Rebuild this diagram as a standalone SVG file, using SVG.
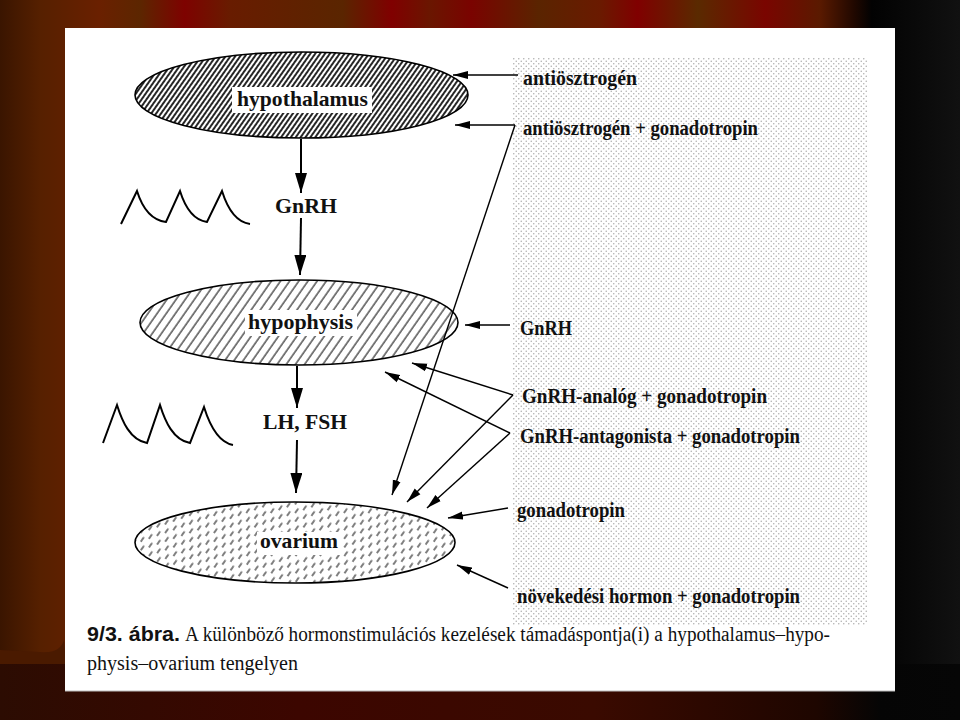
<svg xmlns="http://www.w3.org/2000/svg" width="960" height="720" viewBox="0 0 960 720">
<defs>
<style>
.lbl{font-family:"Liberation Serif","Times New Roman",serif;font-weight:bold;font-size:21px;fill:#111}
.rl{font-family:"Liberation Serif","Times New Roman",serif;font-weight:bold;font-size:20px;fill:#111}
.cap{font-family:"Liberation Serif","Times New Roman",serif;font-size:20px;fill:#111}
.capb{font-family:"Liberation Sans",Arial,sans-serif;font-weight:bold;font-size:20px;fill:#111}
.ell{stroke:#000;stroke-width:1.6}
.con{fill:none;stroke:#000;stroke-width:1.4}
.conv{fill:none;stroke:#000;stroke-width:2}
.wave{fill:none;stroke:#000;stroke-width:2;stroke-linejoin:miter}
</style>
<linearGradient id="curtain" x1="0" y1="0" x2="960" y2="0" gradientUnits="userSpaceOnUse">
<stop offset="0" stop-color="#3a1500"/>
<stop offset="0.042" stop-color="#562000"/>
<stop offset="0.104" stop-color="#6a2000"/>
<stop offset="0.146" stop-color="#5c2600"/>
<stop offset="0.192" stop-color="#7e0200"/>
<stop offset="0.24" stop-color="#681c00"/>
<stop offset="0.357" stop-color="#5a2500"/>
<stop offset="0.408" stop-color="#800000"/>
<stop offset="0.448" stop-color="#6a1600"/>
<stop offset="0.491" stop-color="#7a0300"/>
<stop offset="0.561" stop-color="#5a2400"/>
<stop offset="0.625" stop-color="#6a1a00"/>
<stop offset="0.664" stop-color="#800000"/>
<stop offset="0.727" stop-color="#5a2a00"/>
<stop offset="0.797" stop-color="#7a0500"/>
<stop offset="0.854" stop-color="#5a1a00"/>
<stop offset="0.89" stop-color="#200800"/>
<stop offset="0.908" stop-color="#020202"/>
<stop offset="1" stop-color="#111111"/>
</linearGradient>
<linearGradient id="floor" x1="0" y1="0" x2="960" y2="0" gradientUnits="userSpaceOnUse">
<stop offset="0" stop-color="#2c0c02"/>
<stop offset="0.31" stop-color="#3c0600"/>
<stop offset="0.62" stop-color="#3a0a00"/>
<stop offset="0.85" stop-color="#1e0600"/>
<stop offset="0.917" stop-color="#050505"/>
<stop offset="1" stop-color="#060606"/>
</linearGradient>
<pattern id="dots" patternUnits="userSpaceOnUse" width="5" height="5">
<circle cx="1.25" cy="1.25" r="0.8" fill="#b0b0b0"/>
<circle cx="3.75" cy="3.75" r="0.8" fill="#b0b0b0"/>
</pattern>
<pattern id="hatchDense" patternUnits="userSpaceOnUse" width="4" height="4" patternTransform="rotate(35)">
<rect width="4" height="4" fill="#fff"/>
<line x1="1" y1="0" x2="1" y2="4" stroke="#000" stroke-width="1.7"/>
</pattern>
<pattern id="hatchLight" patternUnits="userSpaceOnUse" width="7.5" height="7.5" patternTransform="rotate(35)">
<rect width="7.5" height="7.5" fill="#fff"/>
<line x1="1" y1="0" x2="1" y2="7.5" stroke="#000" stroke-width="1"/>
</pattern>
<pattern id="hatchDash" patternUnits="userSpaceOnUse" width="10" height="14" patternTransform="rotate(35)">
<rect width="10" height="14" fill="#fff"/>
<line x1="1" y1="0.5" x2="1" y2="6" stroke="#000" stroke-width="1"/>
<line x1="6" y1="7.5" x2="6" y2="13" stroke="#000" stroke-width="1"/>
</pattern>
<marker id="ah" markerUnits="userSpaceOnUse" markerWidth="16" markerHeight="9" refX="15" refY="4.5" orient="auto" viewBox="0 0 16 9">
<path d="M0,0.5 L15,4.5 L0,8.5 z" fill="#000"/>
</marker>
<marker id="ahv" markerUnits="userSpaceOnUse" markerWidth="21" markerHeight="12" refX="20" refY="6" orient="auto" viewBox="0 0 21 12">
<path d="M0,0 L20,6 L0,12 z" fill="#000"/>
</marker>
</defs>

<!-- background curtain -->
<rect x="0" y="0" width="960" height="720" fill="url(#curtain)"/>
<rect x="0" y="664" width="960" height="56" fill="url(#floor)"/>
<path d="M0,650 L40,652 Q60,654 64,640 L66,664 L0,664 z" fill="#4a1a00"/>

<!-- white panel -->
<rect x="65" y="28" width="830" height="663" fill="#ffffff"/>
<line x1="65" y1="691" x2="895" y2="691" stroke="#bdbdbd" stroke-width="1"/>

<!-- dotted shaded area -->
<rect x="513" y="57" width="355" height="568" fill="url(#dots)"/>

<!-- pulse waveforms -->
<g id="pulse-gnrh">
<path class="wave" d="M121,224 L137,191 C142,207 150,220 166,222 L180,191 C185,207 193,220 207,222 L222,191 C227,207 235,222 250,224"/>
</g>
<g id="pulse-lhfsh">
<path class="wave" d="M103,443 L117,405 C122,421 130,440 147,443 L160,405 C165,421 173,440 190,443 L204,407 C209,423 217,442 233,445"/>
</g>

<!-- nodes -->
<g id="node-hypothalamus">
<ellipse class="ell" cx="301.5" cy="95" rx="166.5" ry="43" fill="url(#hatchDense)"/>
<rect x="232" y="87" width="140" height="26" fill="#fff"/>
<text class="lbl" x="237" y="106" textLength="131" lengthAdjust="spacingAndGlyphs">hypothalamus</text>
</g>
<g id="node-gnrh">
<text class="lbl" x="275" y="213" textLength="62" lengthAdjust="spacingAndGlyphs">GnRH</text>
</g>
<g id="node-hypophysis">
<ellipse class="ell" cx="299" cy="322.5" rx="159" ry="42.5" fill="url(#hatchLight)"/>
<rect x="245" y="310" width="112" height="26" fill="#fff"/>
<text class="lbl" x="248" y="329" textLength="105" lengthAdjust="spacingAndGlyphs">hypophysis</text>
</g>
<g id="node-lhfsh">
<text class="lbl" x="263" y="429" textLength="84" lengthAdjust="spacingAndGlyphs">LH, FSH</text>
</g>
<g id="node-ovarium">
<ellipse class="ell" cx="295" cy="542.5" rx="160" ry="40.5" fill="url(#hatchDash)"/>
<rect x="257" y="532" width="85" height="23" fill="#fff"/>
<text class="lbl" x="260" y="548" textLength="78" lengthAdjust="spacingAndGlyphs">ovarium</text>
</g>

<!-- right-side treatment labels -->
<g id="node-antiosztrogen">
<text class="rl" x="523" y="85" textLength="114" lengthAdjust="spacingAndGlyphs">antiösztrogén</text>
</g>
<g id="node-antiosztrogen-gonadotropin">
<text class="rl" x="523" y="135" textLength="235" lengthAdjust="spacingAndGlyphs">antiösztrogén + gonadotropin</text>
</g>
<g id="node-gnrh-right">
<text class="rl" x="520" y="335" textLength="52" lengthAdjust="spacingAndGlyphs">GnRH</text>
</g>
<g id="node-gnrh-analog">
<text class="rl" x="522" y="403" textLength="245" lengthAdjust="spacingAndGlyphs">GnRH-analóg +  gonadotropin</text>
</g>
<g id="node-gnrh-antagonista">
<text class="rl" x="520" y="443" textLength="280" lengthAdjust="spacingAndGlyphs">GnRH-antagonista + gonadotropin</text>
</g>
<g id="node-gonadotropin">
<text class="rl" x="517" y="517" textLength="108" lengthAdjust="spacingAndGlyphs">gonadotropin</text>
</g>
<g id="node-novekedesi">
<text class="rl" x="517" y="603" textLength="283" lengthAdjust="spacingAndGlyphs">növekedési hormon + gonadotropin</text>
</g>

<!-- connectors -->
<g id="connectors">
<path class="conv" d="M301,139 L301,193" marker-end="url(#ahv)"/>
<path class="conv" d="M301,218 L300,275" marker-end="url(#ahv)"/>
<path class="conv" d="M297,366 L297,408" marker-end="url(#ahv)"/>
<path class="conv" d="M297,440 L296,493" marker-end="url(#ahv)"/>
<path class="con" d="M518,75 L453,75" marker-end="url(#ah)"/>
<path class="con" d="M515,125 L455,125" marker-end="url(#ah)"/>
<path class="con" d="M515,125 L392,495" marker-end="url(#ah)"/>
<path class="con" d="M510,325 L465,325" marker-end="url(#ah)"/>
<path class="con" d="M513,395 L412,363" marker-end="url(#ah)"/>
<path class="con" d="M513,395 L407,502" marker-end="url(#ah)"/>
<path class="con" d="M510,433 L385,372" marker-end="url(#ah)"/>
<path class="con" d="M510,433 L427,508" marker-end="url(#ah)"/>
<path class="con" d="M508,508 L448,518" marker-end="url(#ah)"/>
<path class="con" d="M508,588 L457,565" marker-end="url(#ah)"/>
</g>

<!-- caption -->
<g id="caption">
<text class="capb" x="87" y="641" textLength="93" lengthAdjust="spacingAndGlyphs">9/3. ábra.</text>
<text class="cap" x="185" y="641" textLength="645" lengthAdjust="spacingAndGlyphs">A különböző hormonstimulációs kezelések támadáspontja(i) a hypothalamus–hypo-</text>
<text class="cap" x="87" y="670" textLength="211" lengthAdjust="spacingAndGlyphs">physis–ovarium tengelyen</text>
</g>
</svg>
